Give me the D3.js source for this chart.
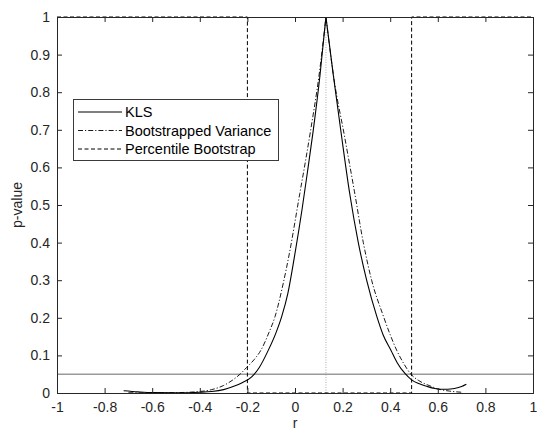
<!DOCTYPE html>
<html><head><meta charset="utf-8">
<script src="https://cdn.jsdelivr.net/npm/d3@7"></script>
<style>body{margin:0;background:#fff}svg{display:block}text{font-family:"Liberation Sans",Arial,Helvetica,sans-serif}</style>
</head><body>
<script>
// ---- data ----
const xTicks = [-1,-0.8,-0.6,-0.4,-0.2,0,0.2,0.4,0.6,0.8,1];
const yTicks = [0,0.1,0.2,0.3,0.4,0.5,0.6,0.7,0.8,0.9,1];
const klsR = [-0.72,-0.66,-0.6,-0.5,-0.4,-0.35,-0.3,-0.26,-0.22,-0.182,-0.15,-0.112,-0.08,-0.056,-0.03,-0.003,0.03,0.055,0.077,0.105,0.13,0.16,0.192,0.23,0.266,0.301,0.343,0.37,0.403,0.43,0.462,0.49,0.52,0.553,0.58,0.61,0.64,0.67,0.7,0.72];
const klsP = [0.006,0.003,0.001,0.0005,0.002,0.004,0.009,0.017,0.028,0.043,0.068,0.114,0.16,0.203,0.265,0.36,0.49,0.6,0.70,0.845,1,0.85,0.70,0.53,0.40,0.30,0.205,0.155,0.114,0.08,0.052,0.035,0.025,0.018,0.013,0.010,0.010,0.012,0.017,0.023];
const bvR = [-0.7,-0.6,-0.5,-0.4,-0.35,-0.3,-0.25,-0.231,-0.203,-0.17,-0.143,-0.11,-0.084,-0.05,-0.024,0.02,0.045,0.066,0.1,0.13,0.165,0.206,0.25,0.287,0.322,0.371,0.4,0.427,0.46,0.487,0.52,0.567,0.6,0.65,0.7];
const bvP = [0.0005,0.0005,0.001,0.004,0.009,0.02,0.04,0.05,0.068,0.09,0.114,0.16,0.203,0.29,0.37,0.53,0.62,0.70,0.84,1,0.83,0.69,0.535,0.40,0.30,0.205,0.155,0.114,0.075,0.05,0.033,0.019,0.011,0.005,0.002];
const pbR = [-1,-0.2,-0.2,0.49,0.49,1];
const pbP = [1,1,0,0,1,1];
const alpha = 0.05;
const rHat = 0.13;
const legendLabels = ["KLS","Bootstrapped Variance","Percentile Bootstrap"];

// ---- drawing ----
const W=537,H=432;
const svg=d3.select("body").append("svg").attr("width",W).attr("height",H);
const x=d3.scaleLinear().domain([-1,1]).range([57,533]);
const y=d3.scaleLinear().domain([0,1]).range([393,17]);
const axCol="#262626";
const fmt=d=>String(d).replace("\u2212","-");

svg.append("line").attr("x1",x(-1)).attr("x2",x(1)).attr("y1",y(alpha)).attr("y2",y(alpha))
  .attr("stroke","#9a9a9a").attr("stroke-width",1.5);
svg.append("line").attr("x1",x(rHat)).attr("x2",x(rHat)).attr("y1",y(0)).attr("y2",y(1))
  .attr("stroke","#999").attr("stroke-width",0.8).attr("stroke-dasharray","1,1.5");

const smooth=d3.line().x(d=>x(d[0])).y(d=>y(d[1])).curve(d3.curveMonotoneX);
const lin=d3.line().x(d=>x(d[0])).y(d=>y(d[1]));
function peakPath(r,p){
  const pts=r.map((v,i)=>[v,p[i]]);
  const k=p.indexOf(d3.max(p));
  const a=smooth(pts.slice(0,k+1));
  const b=smooth(pts.slice(k)).replace(/^M/,"L");
  return a+b;
}
const series=[
  {d:peakPath(klsR,klsP),dash:null,w:1.1},
  {d:peakPath(bvR,bvP),dash:"5,2,1.2,2",w:0.9},
  {d:lin(pbR.map((v,i)=>[v,pbP[i]])),dash:"4,2.5",w:1}
];
series.forEach(s=>{
  svg.append("path").attr("d",s.d)
    .attr("fill","none").attr("stroke","#000").attr("stroke-width",s.w)
    .attr("stroke-dasharray",s.dash);
});

const gx=svg.append("g").attr("transform",`translate(0,${y(0)})`)
  .call(d3.axisBottom(x).tickValues(xTicks).tickSize(-5).tickPadding(9).tickFormat(fmt));
const gxt=svg.append("g").attr("transform",`translate(0,${y(1)})`)
  .call(d3.axisTop(x).tickValues(xTicks).tickSize(-5).tickFormat(""));
const gy=svg.append("g").attr("transform",`translate(${x(-1)},0)`)
  .call(d3.axisLeft(y).tickValues(yTicks).tickSize(-5).tickPadding(7).tickFormat(fmt));
const gyr=svg.append("g").attr("transform",`translate(${x(1)},0)`)
  .call(d3.axisRight(y).tickValues(yTicks).tickSize(-5).tickFormat(""));
[gx,gxt,gy,gyr].forEach(g=>{
  g.select(".domain").attr("stroke",axCol).attr("stroke-width",1);
  g.selectAll(".tick line").attr("stroke",axCol);
  g.selectAll("text").attr("fill",axCol).style("font-size","14px").style("font-family",'"Liberation Sans",Arial,sans-serif');
});
gx.selectAll(".tick text").attr("dy","0.71em");

svg.append("text").attr("x",x(0)).attr("y",428).attr("text-anchor","middle")
  .style("font-size","14px").attr("fill",axCol).text("r");
svg.append("text").attr("transform",`translate(22,${(y(0)+y(1))/2}) rotate(-90)`).attr("text-anchor","middle")
  .style("font-size","14px").attr("fill",axCol).text("p-value");

const lg=svg.append("g");
lg.append("rect").attr("x",73.5).attr("y",99.5).attr("width",205).attr("height",61)
  .attr("fill","#fff").attr("stroke","#3a3a3a").attr("stroke-width",1);
legendLabels.forEach((t,i)=>{
  const yy=112+i*18.5;
  lg.append("line").attr("x1",78).attr("x2",122).attr("y1",yy).attr("y2",yy)
    .attr("stroke","#000").attr("stroke-width",series[i].w).attr("stroke-dasharray",series[i].dash);
  lg.append("text").attr("x",125).attr("y",yy+5).style("font-size","14.5px").attr("fill","#000").text(t);
});
</script>
</body></html>
